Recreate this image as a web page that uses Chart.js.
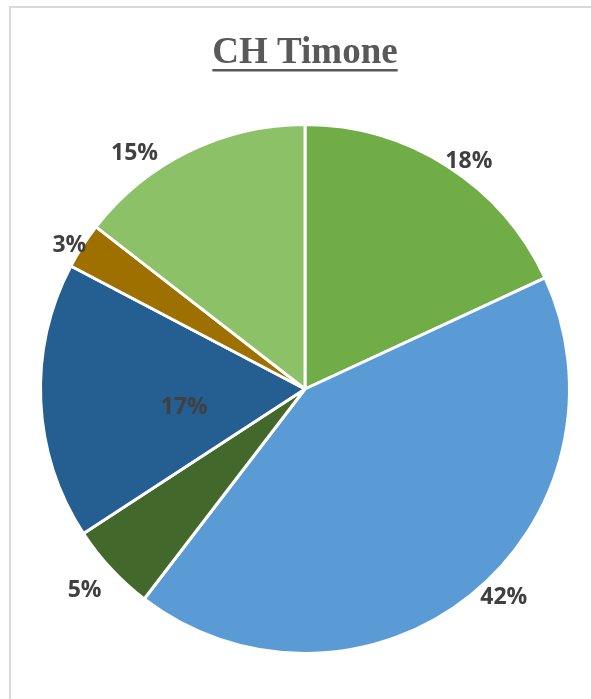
<!DOCTYPE html>
<html>
<head>
<meta charset="utf-8">
<script src="https://cdn.jsdelivr.net/npm/chart.js@4"></script>
<style>
  html, body { margin: 0; padding: 0; background: #fff; }
  #wrap { position: relative; width: 591px; height: 699px; }
  #frame { position: absolute; left: 9px; top: 6px; right: -10px; bottom: -10px;
           border-left: 2px solid #D9D9D9; border-top: 2px solid #D9D9D9; }
  canvas { position: absolute; left: 0; top: 0; }
</style>
</head>
<body>
<div id="wrap">
  <div id="frame"></div>
  <canvas id="pieChart" width="591" height="699"></canvas>
</div>
<script>
// chart data (slice sizes, labels shown rounded)
const chartTitle = "CH Timone";
const categories = ["A", "B", "C", "D", "E", "F"];
const shares = [18.1, 42.3, 5.4, 16.9, 2.8, 14.5];
const sliceColors = ["#70AD47", "#5B9BD5", "#43682B", "#255E91", "#9E7000", "#8CC168"];

// label placement: [radius factor, angle shift in degrees]
const labelPlace = [[1.07, 2.8], [1.08, -5.4], [1.12, 0.9], [0.46, -4.4], [1.05, -0.8], [1.11, -9.4]];

// title with underline + percentage labels
const drawExtras = {
  id: "drawExtras",
  afterDraw(chart) {
    const ctx = chart.ctx;
    ctx.save();
    ctx.font = "bold 37px 'Liberation Serif', serif";
    ctx.fillStyle = "#595959";
    ctx.textAlign = "center";
    ctx.textBaseline = "alphabetic";
    ctx.fillText(chartTitle, 305, 63);
    const w = ctx.measureText(chartTitle).width;
    ctx.fillRect(305 - w / 2, 69, w, 2.5);

    ctx.font = "bold 23px 'Open Sans', sans-serif";
    ctx.fillStyle = "#404040";
    ctx.textBaseline = "middle";
    const meta = chart.getDatasetMeta(0);
    meta.data.forEach((arc, i) => {
      const p = arc.getProps(["x", "y", "startAngle", "endAngle", "outerRadius"], true);
      const a = (p.startAngle + p.endAngle) / 2 + labelPlace[i][1] * Math.PI / 180;
      const r = p.outerRadius * labelPlace[i][0];
      ctx.fillText(Math.round(shares[i]) + "%", p.x + Math.cos(a) * r, p.y + Math.sin(a) * r + 3);
    });
    ctx.restore();
  }
};

let ctx = document.getElementById("pieChart").getContext("2d");

const config = {
  type: "pie",
  data: {
    labels: categories,
    datasets: [
      {
        data: shares,
        backgroundColor: sliceColors,
        borderColor: "#ffffff",
        borderWidth: 3,
      },
    ],
  },
  options: {
    responsive: false,
    animation: false,
    layout: {
      padding: { left: 39, right: 20, top: 123, bottom: 44 },
    },
    plugins: {
      legend: { display: false },
      tooltip: { enabled: false },
      title: { display: false },
    },
  },
  plugins: [drawExtras],
};

let myChart = new Chart(ctx, config);
</script>
</body>
</html>
